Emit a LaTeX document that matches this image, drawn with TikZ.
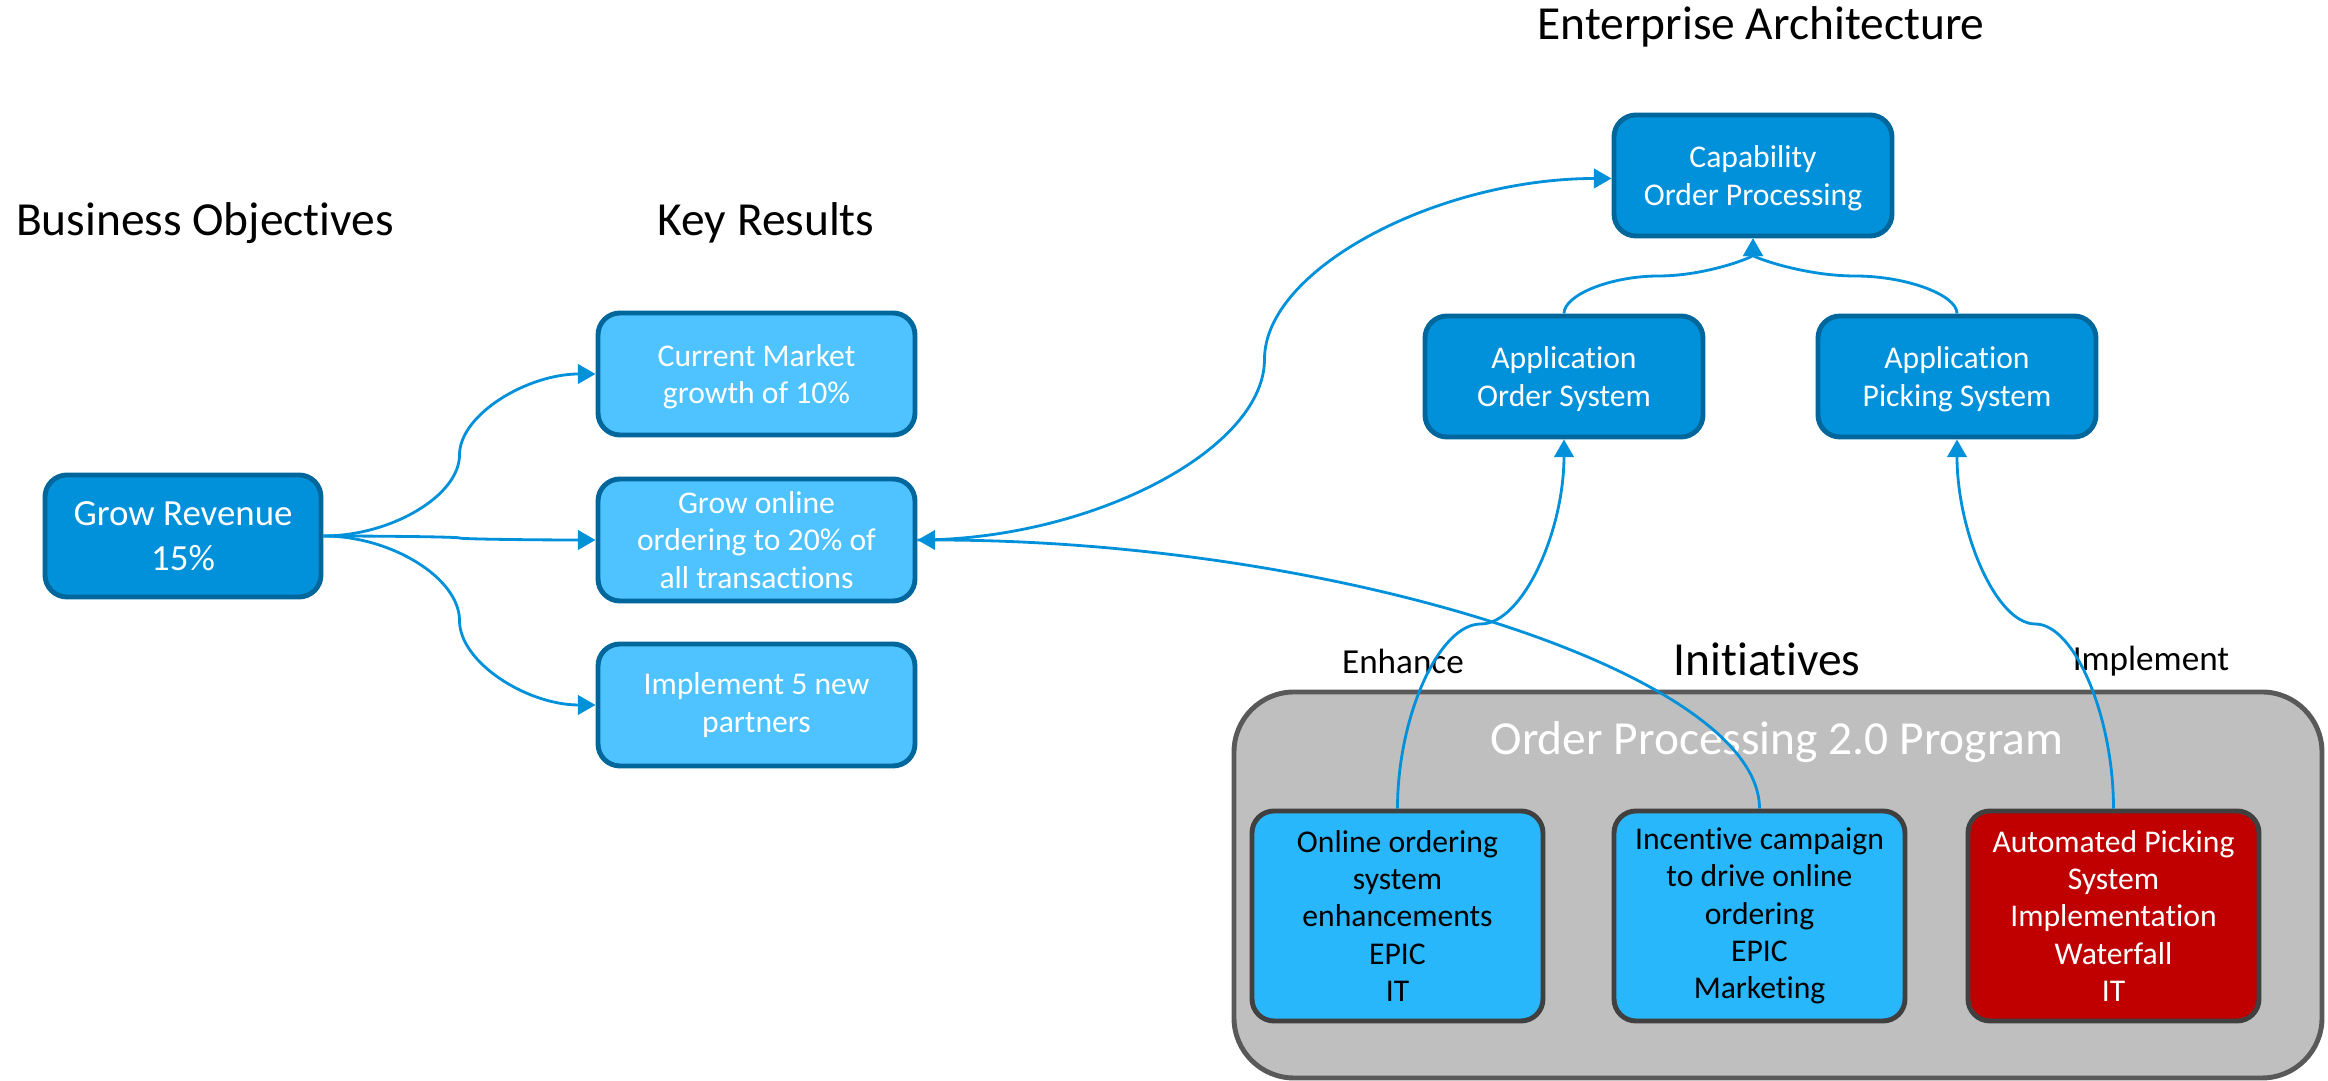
\documentclass[tikz,border=0pt]{standalone}
\usepackage{fontspec}
\setmainfont{Carlito}[RawFeature={-liga;-clig;-calt;-dlig;-rlig}]
\usetikzlibrary{arrows.meta,calc,shapes.geometric}
\definecolor{objective}{RGB}{0,145,218}
\definecolor{boxline}{RGB}{0,103,156}
\definecolor{keyresult}{RGB}{79,195,255}
\definecolor{initiative}{RGB}{41,183,252}
\definecolor{waterfall}{RGB}{192,0,0}
\definecolor{program}{RGB}{191,191,191}
\definecolor{programline}{RGB}{89,89,89}
\definecolor{initline}{RGB}{64,64,64}
\definecolor{link}{RGB}{0,145,218}
% horizontal s-shaped connector
\newcommand{\hlink}[2]{
  \draw[link] let \p1=(#1), \p2=(#2) in
    (\p1) .. controls ({\x1+0.25*(\x2-\x1)},\y1) and ({0.5*(\x1+\x2)},{\y1+0.25*(\y2-\y1)}) .. ({0.5*(\x1+\x2)},{0.5*(\y1+\y2)})
    .. controls ({0.5*(\x1+\x2)},{\y1+0.75*(\y2-\y1)}) and ({\x2-0.25*(\x2-\x1)},\y2) .. (\p2);
}
% vertical s-shaped connector
\newcommand{\vlink}[2]{
  \draw[link] let \p1=(#1), \p2=(#2) in
    (\p1) .. controls (\x1,{\y1+0.25*(\y2-\y1)}) and ({\x1+0.25*(\x2-\x1)},{0.5*(\y1+\y2)}) .. ({0.5*(\x1+\x2)},{0.5*(\y1+\y2)})
    .. controls ({\x1+0.75*(\x2-\x1)},{0.5*(\y1+\y2)}) and (\x2,{\y2-0.25*(\y2-\y1)}) .. (\p2);
}
\tikzstyle{box}=[rectangle, rounded corners=0.22cm, line width=1.4pt, align=center, inner sep=0pt, font=\fontsize{9}{10.6}\selectfont]
\tikzstyle{goal}=[box, fill=objective, draw=boxline, text=white, minimum width=2.76cm, minimum height=1.22cm, font=\fontsize{10.5}{12.7}\selectfont]
\tikzstyle{result}=[box, fill=keyresult, draw=boxline, text=white, minimum width=3.17cm, minimum height=1.22cm]
\tikzstyle{arch}=[box, fill=objective, draw=boxline, text=white, minimum width=2.78cm, minimum height=1.21cm, text depth=0pt]
\tikzstyle{epic}=[box, fill=initiative, draw=initline, text=black, minimum width=2.91cm, minimum height=2.1cm]
\tikzstyle{heading}=[font=\fontsize{13.5}{16}\selectfont]
\tikzstyle{verb}=[font=\fontsize{10}{12}\selectfont]
\tikzset{link/.style={-{Triangle[length=5pt,width=5.5pt]}, draw=link, line width=0.8pt}}
\tikzset{y=-1cm}
\tikzset{x=1cm}

\begin{document}
\begin{tikzpicture}
  \useasboundingbox (0,0) rectangle (23.28,10.81);
  %% Titles
  \draw (2.05,2.23) node[heading] (bo) {Business Objectives};
  \draw (7.66,2.23) node[heading] (kr) {Key Results};
  \draw (17.61,0.27) node[heading] (ea) {Enterprise Architecture};

  %% Program
  \draw (17.78,8.85) node[box, rounded corners=0.6cm, fill=program, draw=programline, minimum width=10.88cm, minimum height=3.86cm] (prog) {};
  \draw (17.77,7.42) node[heading, text=white] (progname) {Order Processing 2.0 Program};
  \draw (17.67,6.59) node[heading] (ini) {Initiatives};
  \draw (14.03,6.61) node[verb] (enhance) {Enhance};
  \draw (21.51,6.61) node[verb] (implement) {Implement};

  %% Objective and key results
  \draw (1.83,5.36) node[goal] (rev) {Grow Revenue\\15\%};
  \draw (7.565,3.74) node[result, text depth=0pt] (kr1) {Current Market\\growth of 10\%};
  \draw (7.565,5.40) node[result] (kr2) {Grow online\\ordering to 20\% of\\all transactions};
  \draw (7.565,7.05) node[result] (kr3) {Implement 5 new\\partners};

  %% Architecture
  \draw (17.53,1.755) node[arch] (cap) {Capability\\Order Processing};
  \draw (15.64,3.765) node[arch] (ordsys) {Application\\Order System};
  \draw (19.57,3.765) node[arch] (picksys) {Application\\Picking System};

  %% Initiatives
  \draw (13.975,9.16) node[epic] (ini1) {Online ordering\\system\\enhancements\\EPIC\\IT};
  \draw (17.595,9.16) node[epic] (ini2) {Incentive campaign\\to drive online\\ordering\\EPIC\\Marketing};
  \draw (21.135,9.16) node[epic, fill=waterfall, text=white] (ini3) {Automated Picking\\System\\Implementation\\Waterfall\\IT};

  %% Connectors
  \hlink{rev.east}{kr1.west}
  \hlink{rev.east}{kr2.west}
  \hlink{rev.east}{kr3.west}
  \hlink{kr2.east}{$(cap.west)+(0,0.03)$}
  \vlink{ordsys.north}{cap.south}
  \vlink{picksys.north}{cap.south}
  \vlink{ini1.north}{ordsys.south}
  \vlink{ini3.north}{picksys.south}
  \draw[link] (ini2.north) .. controls ($(ini2.north)!.5!(ini2.north |- kr2.east)$) and ($(kr2.east)!.5!(ini2.north |- kr2.east)$) .. (kr2.east);
\end{tikzpicture}
\end{document}
